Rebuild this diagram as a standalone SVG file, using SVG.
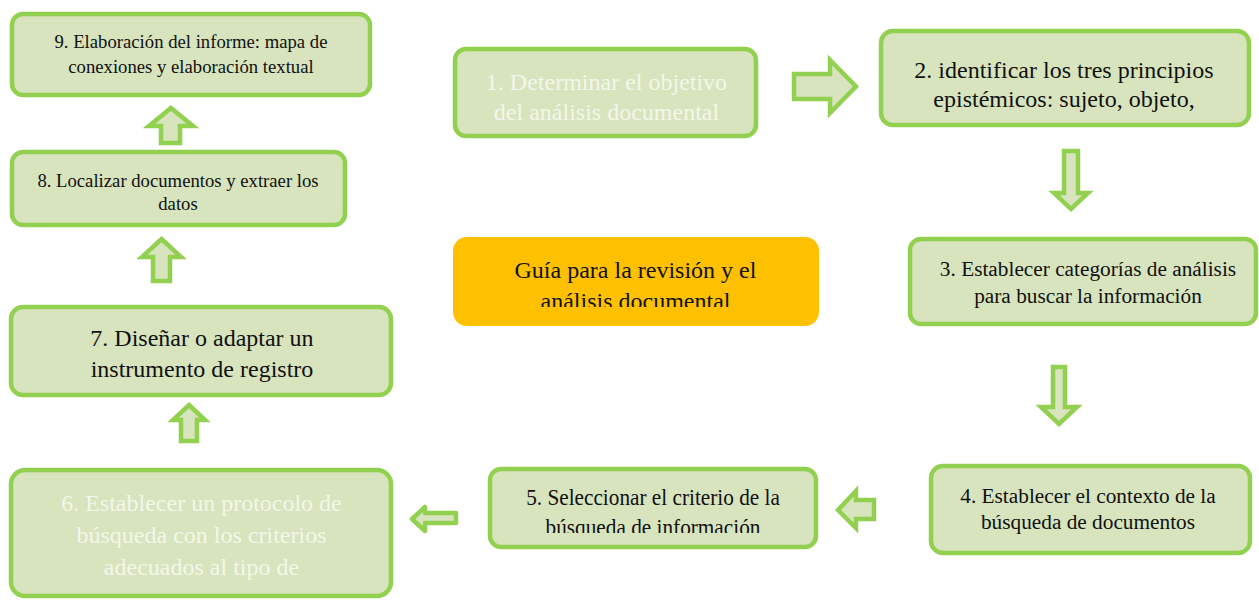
<svg xmlns="http://www.w3.org/2000/svg" width="1259" height="600" viewBox="0 0 1259 600">
<style>
.box{fill:#D7E4BD;stroke:#92D050;stroke-width:4.5}
.arr{fill:#D7E4BD;stroke:#92D050;stroke-width:4.5;stroke-linejoin:miter}
.t{font-family:"Liberation Serif","Times New Roman",serif;text-anchor:middle;fill:#111}
.w{fill:#F3F7EA}
</style>
<defs>
<clipPath id="cg"><rect x="453" y="237" width="366" height="70"/></clipPath>
<clipPath id="c5"><rect x="490" y="469" width="326" height="64"/></clipPath>
</defs>
<rect width="1259" height="600" fill="#fff"/>

<g id="connectors">
<polygon class="arr" points="794,74 830,74 830,60 856,86.5 830,113 830,99 794,99"/>
<polygon class="arr" points="1064,151 1078,151 1078,193 1088,193 1071,209 1054,193 1064,193"/>
<polygon class="arr" points="1053,367 1065,367 1065,407 1077,407 1059,424 1041,407 1053,407"/>
<polygon class="arr" points="838,510 856,491 856,500 874,500 874,519 856,519 856,528"/>
<polygon class="arr" style="stroke-linejoin:round" points="412,519 425,507 425,513 456,513 456,523 425,523 425,531"/>
<polygon class="arr" points="189,405 205,420 197,420 197,441 181,441 181,420 173,420"/>
<polygon class="arr" points="161.5,239 181,257 170,257 170,281 153,281 153,257 142,257"/>
<polygon class="arr" points="171,108 193,126 180,126 180,143 161,143 161,126 149,126"/>
</g>

<g id="n9">
<rect class="box" x="12" y="14" width="358" height="81" rx="11"/>
<text class="t" x="191" y="47.5" font-size="18.7">9. Elaboración del informe: mapa de</text>
<text class="t" x="191" y="72.5" font-size="18.7">conexiones y elaboración textual</text>
</g>

<g id="n8">
<rect class="box" x="12" y="152" width="333" height="73" rx="11"/>
<text class="t" x="178" y="186.5" font-size="18.7">8. Localizar documentos y extraer los</text>
<text class="t" x="178" y="210" font-size="18.7">datos</text>
</g>

<g id="n1">
<rect class="box" x="455" y="49" width="301" height="87" rx="11"/>
<text class="t w" x="606.5" y="90" font-size="24">1. Determinar el objetivo</text>
<text class="t w" x="606.5" y="120" font-size="24">del análisis documental</text>
</g>

<g id="n2">
<rect class="box" x="881" y="31" width="368" height="94" rx="12"/>
<text class="t" x="1064" y="78" font-size="24">2. identificar los tres principios</text>
<text class="t" x="1064" y="106.5" font-size="24">epistémicos: sujeto, objeto,</text>
</g>

<g id="n3">
<rect class="box" x="910" y="239" width="346" height="85" rx="11"/>
<text class="t" x="1088" y="276" font-size="21.3">3. Establecer categorías de análisis</text>
<text class="t" x="1088" y="303" font-size="21.3">para buscar la información</text>
</g>

<g id="center">
<rect x="453" y="237" width="366" height="89" rx="14" fill="#FFC000"/>
<g clip-path="url(#cg)">
<text class="t" x="635.5" y="278" font-size="24">Guía para la revisión y el</text>
<text class="t" x="635.5" y="309" font-size="24">análisis documental</text>
</g>
</g>

<g id="n7">
<rect class="box" x="11" y="307" width="380" height="88" rx="12"/>
<text class="t" x="202" y="346" font-size="24">7. Diseñar o adaptar un</text>
<text class="t" x="202" y="377" font-size="24">instrumento de registro</text>
</g>

<g id="n6">
<rect class="box" x="11" y="470" width="380" height="126" rx="14"/>
<text class="t w" x="201.5" y="511" font-size="24">6. Establecer un protocolo de</text>
<text class="t w" x="201.5" y="543" font-size="24">búsqueda con los criterios</text>
<text class="t w" x="201.5" y="575" font-size="24">adecuados al tipo de</text>
</g>

<g id="n5">
<rect class="box" x="490" y="469" width="326" height="78" rx="11"/>
<g clip-path="url(#c5)">
<g transform="translate(653,0) scale(0.945,1)">
<text class="t" x="0" y="505.5" font-size="22.5">5. Seleccionar el criterio de la</text>
<text class="t" x="0" y="535" font-size="22.5">búsqueda de información</text>
</g>
</g>
</g>

<g id="n4">
<rect class="box" x="931" y="466" width="319" height="87" rx="12"/>
<text class="t" x="1088" y="503" font-size="21.3">4. Establecer el contexto de la</text>
<text class="t" x="1088" y="529" font-size="21.3">búsqueda de documentos</text>
</g>
</svg>
